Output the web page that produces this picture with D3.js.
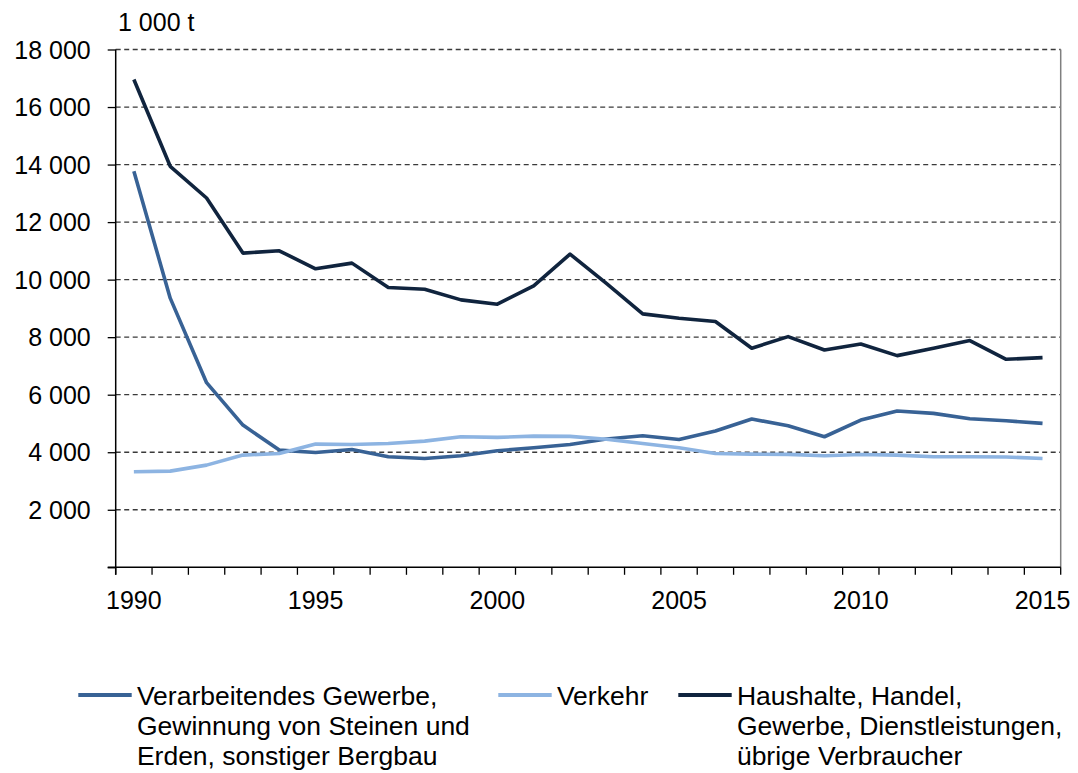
<!DOCTYPE html>
<html>
<head>
<meta charset="utf-8">
<script src="https://cdn.jsdelivr.net/npm/d3@7"></script>
<style>
  html, body { margin: 0; padding: 0; background: #ffffff; }
  svg { display: block; font-family: "Liberation Sans", Arial, sans-serif; }
</style>
</head>
<body>
<svg id="chart" width="1078" height="773"></svg>
<script>
const years = d3.range(1990, 2016);
const labelYears = [1990, 1995, 2000, 2005, 2010, 2015];
const yTicks = [0, 2000, 4000, 6000, 8000, 10000, 12000, 14000, 16000, 18000];
const unitLabel = "1 000 t";

const verarbeitendes = [13765, 9356, 6418, 4944, 4074, 3993, 4097, 3842, 3784, 3877, 4051, 4155, 4271, 4460, 4573, 4445, 4736, 5153, 4921, 4538, 5119, 5432, 5351, 5165, 5095, 5003];
const verkehr = [3319, 3343, 3552, 3900, 3958, 4283, 4270, 4306, 4387, 4538, 4515, 4561, 4550, 4450, 4306, 4155, 3958, 3935, 3925, 3877, 3920, 3900, 3842, 3842, 3835, 3784];
const haushalte = [16958, 13940, 12838, 10922, 11003, 10376, 10574, 9726, 9668, 9297, 9146, 9784, 10887, 9870, 8810, 8660, 8542, 7614, 8020, 7556, 7765, 7358, 7614, 7881, 7231, 7289];

const seriesNames = [
  ["Verarbeitendes Gewerbe,", "Gewinnung von Steinen und", "Erden, sonstiger Bergbau"],
  ["Verkehr"],
  ["Haushalte, Handel,", "Gewerbe, Dienstleistungen,", "übrige Verbraucher"]
];
const seriesColors = ["#386295", "#8db4e2", "#10243e"];
const seriesValues = [verarbeitendes, verkehr, haushalte];

const svg = d3.select("#chart");
const pLeft = 115.7, pRight = 1060.7, pTop = 49.5, pBottom = 567.3;

const x = d3.scaleBand().domain(years).range([pLeft, pRight]).padding(0);
const y = d3.scaleLinear().domain([0, 18000]).range([pBottom, pTop]);

const loc = d3.formatLocale({ decimal: ",", thousands: " ", grouping: [3], currency: ["", ""] });
const fmt = loc.format(",d");

// gridlines
svg.append("g").selectAll("line")
  .data(yTicks.filter(d => d > 0))
  .join("line")
  .attr("x1", pLeft).attr("x2", pRight)
  .attr("y1", d => y(d)).attr("y2", d => y(d))
  .attr("stroke", "#3a3a3a").attr("stroke-width", 1.3)
  .attr("stroke-dasharray", "5,3.5");

// right border
svg.append("line")
  .attr("x1", pRight).attr("x2", pRight).attr("y1", pTop).attr("y2", pBottom)
  .attr("stroke", "#7f7f7f").attr("stroke-width", 1.5);

// y axis
const yAxis = d3.axisLeft(y).tickValues(yTicks).tickSize(8).tickPadding(17)
  .tickFormat(d => d === 0 ? "" : fmt(d));
const gy = svg.append("g").attr("transform", `translate(${pLeft},0)`).call(yAxis);
gy.select(".domain").attr("stroke", "#000").attr("stroke-width", 1.5)
  .attr("d", `M0,${pTop}V${pBottom + 7.5}`);
gy.selectAll(".tick line").attr("stroke", "#000").attr("stroke-width", 1.3);
gy.selectAll(".tick text").attr("font-size", 25).attr("fill", "#000")
  .attr("font-family", "Liberation Sans, Arial, sans-serif").attr("dy", "0.34em");

// x axis
const xAxis = d3.axisBottom(x).tickValues(labelYears).tickSize(0).tickPadding(24);
const gx = svg.append("g").attr("transform", `translate(0,${pBottom})`).call(xAxis);
gx.select(".domain").attr("stroke", "#000").attr("stroke-width", 1.5)
  .attr("d", `M${pLeft - 8},0H${pRight}`);
gx.selectAll(".tick text").attr("font-size", 25).attr("fill", "#000")
  .attr("font-family", "Liberation Sans, Arial, sans-serif").attr("dy", "0.71em");
// boundary tick marks
const boundaries = years.map(d => x(d)).concat([x(years[years.length - 1]) + x.bandwidth()]);
gx.append("g").selectAll("line").data(boundaries).join("line")
  .attr("x1", d => d).attr("x2", d => d).attr("y1", 0).attr("y2", 7.5)
  .attr("stroke", "#000").attr("stroke-width", 1.3);

// unit label
svg.append("text").attr("x", 118).attr("y", 31).attr("font-size", 25).attr("fill", "#000")
  .text(unitLabel);

// lines
const line = d3.line().x((d, i) => x(years[i]) + x.bandwidth() / 2).y(d => y(d));
seriesValues.forEach((vals, k) => {
  svg.append("path").datum(vals)
    .attr("d", line)
    .attr("fill", "none")
    .attr("stroke", seriesColors[k])
    .attr("stroke-width", 3.6)
    .attr("stroke-linejoin", "round");
});

// legend
const legendX = [78.3, 498.3, 678.3];
seriesNames.forEach((lines, k) => {
  const g = svg.append("g");
  g.append("line").attr("x1", legendX[k]).attr("x2", legendX[k] + 53.4)
    .attr("y1", 695).attr("y2", 695)
    .attr("stroke", seriesColors[k]).attr("stroke-width", 4);
  const t = g.append("text").attr("font-size", 26.5).attr("fill", "#000");
  lines.forEach((s, i) => {
    t.append("tspan").attr("x", legendX[k] + 58.6).attr("y", 705 + i * 30).text(s);
  });
});
</script>
</body>
</html>
